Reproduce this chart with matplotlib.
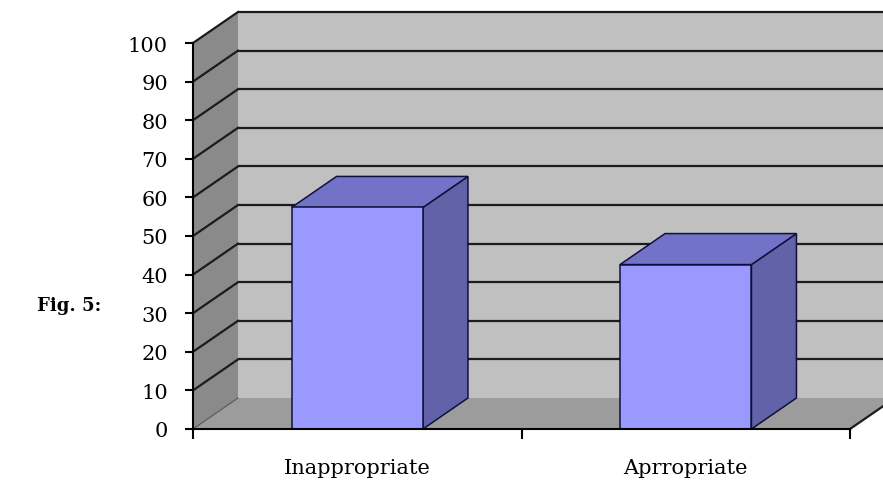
import matplotlib
matplotlib.use("Agg")
import matplotlib.pyplot as plt
import matplotlib.transforms as mtransforms
from matplotlib.patches import Polygon, Rectangle

# Data
categories = ["Inappropriate", "Aprropriate"]
values = [57.4, 42.6]
y_ticks = list(range(0, 101, 10))

# Style
wall_back = "#c0c0c0"
wall_side = "#8a8a8a"
floor_col = "#9c9c9c"
bar_front = "#9999ff"
bar_top = "#7272c9"
bar_side = "#6262a8"
bar_edge = "#10103a"
grid_col = "#1c1c1c"
serif = ["DejaVu Serif"]

fig = plt.figure(figsize=(8.83, 4.81), dpi=100)
W, H = 883, 481
ax = fig.add_axes([193 / W, 51 / H, 657 / W, 386 / H])
n = len(categories)
ax.set_xlim(0, n)
ax.set_ylim(0, 100)
ax.patch.set_visible(False)

# depth offset of the back plane (pixels -> inches)
depth = mtransforms.ScaledTranslation(45 / 100, 31 / 100, fig.dpi_scale_trans)
back = ax.transData + depth
front = ax.transData
pix = mtransforms.IdentityTransform()


def quad(p_front, p_back, col, z, ec="none", lw=0):
    """Polygon with two points on the front plane and two on the back plane."""
    pts_f = [front.transform(p) for p in p_front]
    pts_b = [back.transform(p) for p in p_back]
    poly = Polygon(pts_f + pts_b, closed=True, transform=pix,
                   facecolor=col, edgecolor=ec, linewidth=lw, zorder=z,
                   joinstyle="miter")
    poly.set_clip_on(False)
    ax.add_patch(poly)


def edge(p_front, p_back, col, lw, z):
    p0 = front.transform(p_front)
    p1 = back.transform(p_back)
    ln = plt.Line2D([p0[0], p1[0]], [p0[1], p1[1]], transform=pix,
                    color=col, lw=lw, zorder=z, clip_on=False)
    ax.add_line(ln)


# back wall
ax.add_patch(Rectangle((0, 0), n, 100, transform=back, facecolor=wall_back,
                       edgecolor="none", zorder=0, clip_on=False))
# left side wall
quad([(0, 0), (0, 100)], [(0, 100), (0, 0)], wall_side, 0.5)
# floor
quad([(0, 0), (n, 0)], [(n, 0), (0, 0)], floor_col, 0.5)

# gridlines on back wall and their continuation on the side wall
for v in y_ticks[1:]:
    ax.plot([0, n], [v, v], transform=back, color=grid_col, lw=1.6,
            zorder=1, clip_on=False, solid_capstyle="butt")
for v in y_ticks:
    edge((0, v), (0, v), grid_col if v else "#555555", 1.6 if v else 0.8, 1)
# right floor edge
edge((n, 0), (n, 0), grid_col, 1.6, 1)

# 3-D bars
bw = 0.4
for i, v in enumerate(values):
    x0 = i + 0.5 - bw / 2
    x1 = i + 0.5 + bw / 2
    # right side
    quad([(x1, 0), (x1, v)], [(x1, v), (x1, 0)], bar_side, 2, bar_edge, 1.1)
    # top
    quad([(x0, v), (x1, v)], [(x1, v), (x0, v)], bar_top, 2, bar_edge, 1.1)
    # front face
    ax.add_patch(Rectangle((x0, 0), bw, v, facecolor=bar_front,
                           edgecolor=bar_edge, lw=1.1, zorder=3, clip_on=False))

# axes lines and ticks
for s in ["top", "right"]:
    ax.spines[s].set_visible(False)
for s in ["left", "bottom"]:
    ax.spines[s].set_linewidth(1.5)
    ax.spines[s].set_zorder(4)
ax.set_yticks(y_ticks)
ax.set_yticklabels([str(t) for t in y_ticks], fontfamily=serif, fontsize=15)
ax.tick_params(axis="y", direction="out", length=6, width=1.5, pad=12)
ax.set_xticks(range(n + 1))
ax.set_xticklabels([""] * (n + 1))
ax.tick_params(axis="x", which="major", direction="out", length=7, width=1.5)
ax.set_xticks([i + 0.5 for i in range(n)], minor=True)
ax.set_xticklabels(categories, minor=True, fontfamily=serif, fontsize=15)
ax.tick_params(axis="x", which="minor", length=0, pad=21)

fig.text(69 / W, 1 - 306 / H, "Fig. 5:", fontfamily=serif, fontweight="bold",
         fontsize=13, ha="center", va="center")

fig.savefig("out.png", dpi=100)
